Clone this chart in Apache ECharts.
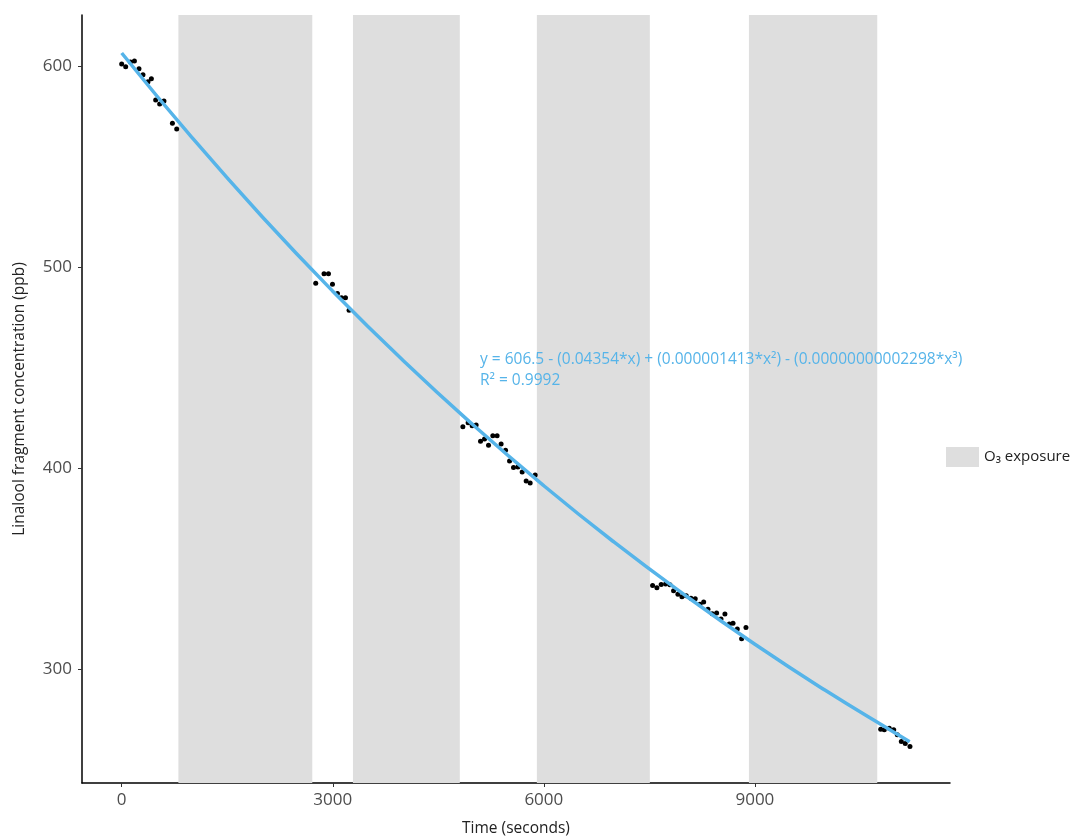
<!DOCTYPE html>
<html>
<head>
<meta charset="utf-8">
<script src="https://cdn.jsdelivr.net/npm/echarts@6/dist/echarts.min.js"></script>
<style>
html,body{margin:0;padding:0;background:#fff;}
#chart{width:1076px;height:839px;}
</style>
</head>
<body>
<div id="chart"></div>
<script>
// Measured time (s) and concentration (ppb)
const timeS = [
  0, 57, 124, 181, 246, 303, 374, 422, 483, 540, 601, 721, 782,
  2758, 2876, 2939, 2996, 3067, 3124, 3181, 3232,
  4849, 4924, 4981, 5038, 5100, 5157, 5214, 5275, 5336, 5393, 5456, 5513, 5569, 5631, 5692, 5749, 5806, 5877,
  7546, 7607, 7668, 7731, 7792, 7844, 7906, 7963, 8024, 8091, 8152, 8219, 8272, 8333, 8394, 8456, 8518, 8574, 8636, 8689, 8750, 8811, 8873,
  10788, 10839, 10910, 10973, 11024, 11081, 11137, 11204
];
const concPpb = [
  601.0, 599.7, 602.0, 602.5, 598.7, 595.7, 592.2, 593.7, 583.1, 581.1, 582.6, 571.6, 568.7,
  492.0, 496.7, 496.7, 491.5, 486.9, 484.7, 484.7, 478.5,
  420.5, 422.5, 421.0, 421.4, 413.3, 414.4, 411.3, 416.1, 416.1, 411.9, 408.8, 403.5, 400.3, 400.5, 398.0, 393.5, 392.5, 396.5,
  341.6, 340.4, 342.1, 342.3, 341.9, 338.9, 337.2, 336.0, 336.5, 335.2, 335.0, 332.2, 333.3, 329.7, 327.5, 327.9, 324.9, 327.4, 322.4, 322.8, 319.9, 315.1, 320.7,
  270.0, 269.8, 270.6, 269.8, 267.3, 264.0, 263.0, 261.5
];
// Fitted curve
const fitTime = [0, 1000, 2000, 3000, 4000, 5000, 6000, 7000, 8000, 9000, 10000, 11000, 11200];
const fitConc = [606.5, 564.4, 524.9, 488.0, 453.5, 421.3, 391.2, 363.1, 336.9, 312.3, 289.4, 268.0, 263.8];
// O3 exposure windows (s)
const exposureStart = [806, 3287, 5901, 8915];
const exposureEnd = [2709, 4806, 7507, 10739];
// Axis ticks
const xTicks = [0, 3000, 6000, 9000];
const yTicks = [300, 400, 500, 600];
const fitLabel = 'y = 606.5 - (0.04354*x) + (0.000001413*x²) - (0.00000000002298*x³)';
const r2Label = 'R² = 0.9992';

const FONT = '"Open Sans", "DejaVu Sans", sans-serif';
const BLUE = '#56B4E9';
const GREY = '#DEDEDE';

const points = timeS.map((t, i) => [t, concPpb[i]]);
const fitPts = fitTime.map((t, i) => [t, fitConc[i]]);
const bands = exposureStart.map((s, i) => [{xAxis: s}, {xAxis: exposureEnd[i]}]);

const chart = echarts.init(document.getElementById('chart'), null, {renderer: 'canvas'});
chart.setOption({
  animation: false,
  backgroundColor: '#ffffff',
  textStyle: {fontFamily: FONT},
  grid: {left: 82, right: 126, top: 15, bottom: 56, containLabel: false, outerBoundsMode: 'none'},
  legend: {
    data: [{name: 'O₃ exposure', icon: 'rect', itemStyle: {color: GREY}}],
    left: 941, top: 442,
    itemWidth: 33, itemHeight: 20, itemGap: 7,
    textStyle: {fontFamily: FONT, fontSize: 15, color: '#222'},
    selectedMode: false
  },
  xAxis: {
    type: 'value', min: -564, max: 11773,
    name: 'Time (seconds)', nameLocation: 'middle', nameGap: 38,
    nameTextStyle: {fontFamily: FONT, fontSize: 15.5, color: '#222'},
    axisLine: {show: true, onZero: false, lineStyle: {color: '#000', width: 1.5}},
    axisTick: {show: true, length: 4, customValues: xTicks, lineStyle: {color: '#333', width: 1}},
    axisLabel: {customValues: xTicks, fontSize: 17, color: '#4D4D4D', margin: 9, fontFamily: FONT,
                formatter: v => String(v)},
    splitLine: {show: false}
  },
  yAxis: {
    type: 'value', min: 243.3, max: 625.4,
    name: 'Linalool fragment concentration (ppb)', nameLocation: 'middle', nameGap: 54,
    nameRotate: 90,
    nameTextStyle: {fontFamily: FONT, fontSize: 15.5, color: '#222'},
    axisLine: {show: true, onZero: false, lineStyle: {color: '#000', width: 1.5}},
    axisTick: {show: true, length: 4, customValues: yTicks, lineStyle: {color: '#333', width: 1}},
    axisLabel: {customValues: yTicks, fontSize: 17, color: '#4D4D4D', margin: 10, fontFamily: FONT,
                formatter: v => String(v)},
    splitLine: {show: false}
  },
  series: [
    {
      name: 'O₃ exposure', type: 'line', data: [], color: GREY,
      markArea: {silent: true, itemStyle: {color: GREY}, data: bands},
      z: 1
    },
    {
      name: 'data', type: 'scatter', data: points,
      symbolSize: 5, itemStyle: {color: '#000', opacity: 1}, z: 3
    },
    {
      name: 'fit', type: 'line', data: fitPts, smooth: true, showSymbol: false,
      lineStyle: {color: BLUE, width: 3.5}, z: 4
    }
  ],
  graphic: [
    {type: 'text', left: 480, top: 352, z: 100, style: {text: fitLabel, fill: BLUE, font: '15.5px ' + FONT}},
    {type: 'text', left: 480, top: 373, z: 100, style: {text: r2Label, fill: BLUE, font: '15.5px ' + FONT}}
  ]
});
</script>
</body>
</html>
